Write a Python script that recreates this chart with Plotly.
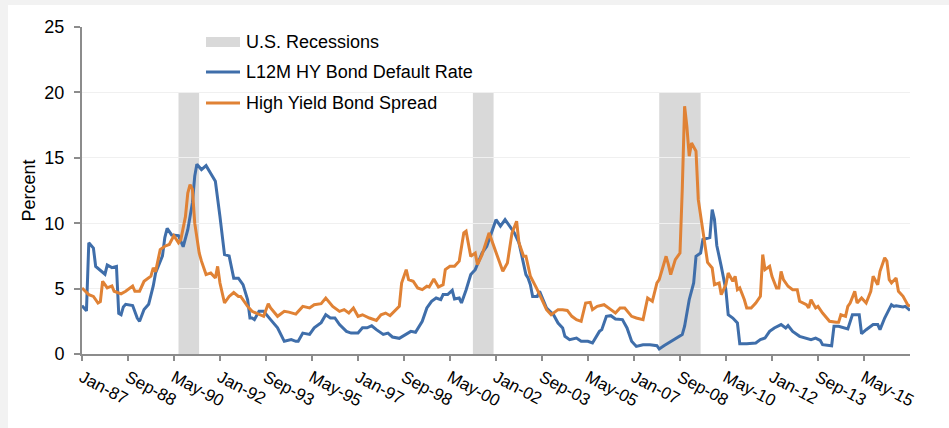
import plotly.graph_objects as go

# ---------------- data ----------------
default_dates = [
    "1987-01", "1987-03", "1987-04", "1987-06", "1987-07", "1987-11", "1987-12", "1988-02", "1988-04", "1988-05",
    "1988-06", "1988-07", "1988-08", "1988-11", "1989-01", "1989-02", "1989-04", "1989-06", "1989-08", "1989-09",
    "1989-12", "1990-01", "1990-02", "1990-04", "1990-07", "1990-09", "1990-11", "1991-01", "1991-02", "1991-03",
    "1991-05", "1991-07", "1991-09", "1991-11", "1992-01", "1992-03", "1992-05", "1992-07", "1992-09", "1992-11",
    "1993-01", "1993-02", "1993-03", "1993-04", "1993-06", "1993-08", "1993-11", "1994-02", "1994-05", "1994-08",
    "1994-10", "1994-11", "1995-01", "1995-04", "1995-06", "1995-09", "1995-11", "1996-01", "1996-03", "1996-05",
    "1996-08", "1996-10", "1997-01", "1997-03", "1997-05", "1997-07", "1997-09", "1997-12", "1998-02", "1998-04",
    "1998-07", "1998-10", "1998-12", "1999-02", "1999-05", "1999-07", "1999-09", "1999-11", "2000-01", "2000-02",
    "2000-04", "2000-06", "2000-07", "2000-09", "2000-10", "2000-12", "2001-02", "2001-04", "2001-05", "2001-07",
    "2001-09", "2001-11", "2002-01", "2002-03", "2002-05", "2002-07", "2002-09", "2002-11", "2002-12", "2003-02",
    "2003-03", "2003-04", "2003-05", "2003-07", "2003-08", "2003-09", "2003-11", "2004-02", "2004-04", "2004-06",
    "2004-07", "2004-09", "2004-12", "2005-02", "2005-05", "2005-07", "2005-10", "2005-11", "2006-01", "2006-03",
    "2006-05", "2006-08", "2006-10", "2006-12", "2007-02", "2007-05", "2007-08", "2007-11", "2007-12", "2008-02",
    "2008-04", "2008-07", "2008-10", "2008-11", "2009-01", "2009-03", "2009-04", "2009-06", "2009-07", "2009-10",
    "2009-11", "2009-12", "2010-01", "2010-03", "2010-05", "2010-06", "2010-08", "2010-10", "2010-11", "2011-02",
    "2011-06", "2011-08", "2011-10", "2011-12", "2012-02", "2012-05", "2012-07", "2012-08", "2012-10", "2013-01",
    "2013-04", "2013-06", "2013-08", "2013-10", "2013-11", "2014-03", "2014-04", "2014-06", "2014-10", "2014-12",
    "2015-03", "2015-04", "2015-06", "2015-09", "2015-11", "2015-12", "2016-02", "2016-05", "2016-06", "2016-07",
    "2016-10", "2016-11", "2017-01",
]
default_rate = [
    3.7, 3.3, 8.5, 8.1, 6.7, 6.1, 6.8, 6.6, 6.7, 3.1,
    3.0, 3.6, 3.8, 3.7, 2.75, 2.5, 3.4, 3.8, 5.2, 6.2,
    7.5, 8.9, 9.6, 9.1, 9.05, 8.2, 9.5, 11.55, 13.6, 14.5,
    14.1, 14.4, 13.8, 13.2, 10.5, 7.6, 7.5, 5.8, 5.8, 5.3,
    4.15, 2.75, 2.75, 2.63, 3.26, 3.26, 2.63, 2.0, 0.97, 1.1,
    0.97, 0.97, 1.6, 1.5, 2.0, 2.4, 3.0, 2.76, 2.76, 2.25,
    1.73, 1.6, 1.6, 2.0, 2.0, 2.16, 1.86, 1.5, 1.6, 1.3,
    1.2, 1.5, 1.73, 1.66, 2.5, 3.52, 4.03, 4.28, 4.16, 4.54,
    4.54, 4.87, 4.2, 4.28, 3.9, 4.9, 6.07, 6.45, 6.83, 7.72,
    8.24, 9.26, 10.27, 9.77, 10.27, 9.77, 9.26, 8.5, 7.72, 6.07,
    5.81, 5.3, 4.4, 4.4, 4.8, 4.4, 3.52, 3.0, 2.37, 1.99,
    1.35, 1.1, 1.22, 0.97, 0.97, 0.84, 1.73, 1.86, 2.88, 2.93,
    2.67, 2.63, 1.99, 0.97, 0.58, 0.71, 0.71, 0.63, 0.38, 0.63,
    0.84, 1.1, 1.48, 2.12, 4.15, 5.43, 7.47, 7.72, 8.75, 8.9,
    11.04, 10.3, 8.3, 6.7, 4.92, 3.0, 2.75, 2.37, 0.79, 0.79,
    0.84, 1.1, 1.22, 1.73, 1.99, 2.25, 1.99, 2.17, 1.73, 1.35,
    1.22, 1.1, 1.22, 1.04, 0.71, 0.63, 2.12, 2.12, 1.92, 3.0,
    3.0, 1.55, 1.86, 2.25, 2.25, 1.86, 2.75, 3.77, 3.64, 3.69,
    3.6, 3.64, 3.33,
]

spread_dates = [
    "1987-01", "1987-04", "1987-06", "1987-08", "1987-09", "1987-10", "1987-12", "1988-02", "1988-03", "1988-06",
    "1988-08", "1988-11", "1988-12", "1989-02", "1989-04", "1989-07", "1989-08", "1989-09", "1989-11", "1990-01",
    "1990-03", "1990-04", "1990-05", "1990-07", "1990-08", "1990-10", "1990-11", "1990-12", "1991-01", "1991-02",
    "1991-04", "1991-05", "1991-07", "1991-09", "1991-11", "1991-12", "1992-01", "1992-03", "1992-05", "1992-07",
    "1992-09", "1992-10", "1993-01", "1993-03", "1993-06", "1993-08", "1993-10", "1993-11", "1994-02", "1994-05",
    "1994-07", "1994-10", "1995-01", "1995-04", "1995-06", "1995-09", "1995-11", "1996-02", "1996-05", "1996-07",
    "1996-09", "1996-11", "1997-01", "1997-03", "1997-06", "1997-09", "1997-11", "1998-01", "1998-03", "1998-05",
    "1998-07", "1998-08", "1998-10", "1998-11", "1999-01", "1999-03", "1999-05", "1999-07", "1999-08", "1999-10",
    "1999-12", "2000-02", "2000-03", "2000-05", "2000-07", "2000-09", "2000-11", "2000-12", "2001-02", "2001-03",
    "2001-04", "2001-05", "2001-07", "2001-10", "2001-12", "2002-02", "2002-04", "2002-06", "2002-08", "2002-10",
    "2002-11", "2003-01", "2003-02", "2003-04", "2003-05", "2003-07", "2003-09", "2003-11", "2004-01", "2004-04",
    "2004-06", "2004-08", "2004-10", "2004-12", "2005-02", "2005-04", "2005-06", "2005-07", "2005-09", "2005-12",
    "2006-03", "2006-05", "2006-07", "2006-09", "2006-12", "2007-02", "2007-05", "2007-07", "2007-09", "2007-10",
    "2007-11", "2007-12", "2008-03", "2008-04", "2008-05", "2008-07", "2008-09", "2008-10", "2008-11", "2008-12",
    "2009-01", "2009-02", "2009-04", "2009-05", "2009-07", "2009-08", "2009-09", "2009-11", "2009-12", "2010-02",
    "2010-03", "2010-05", "2010-06", "2010-08", "2010-09", "2010-10", "2010-11", "2011-01", "2011-02", "2011-04",
    "2011-06", "2011-08", "2011-09", "2011-10", "2011-12", "2012-01", "2012-03", "2012-04", "2012-05", "2012-06",
    "2012-08", "2012-10", "2012-12", "2013-01", "2013-04", "2013-05", "2013-06", "2013-08", "2013-09", "2013-11",
    "2014-01", "2014-02", "2014-05", "2014-06", "2014-07", "2014-09", "2014-10", "2014-11", "2015-01", "2015-02",
    "2015-04", "2015-06", "2015-08", "2015-09", "2015-11", "2015-12", "2016-02", "2016-03", "2016-04", "2016-05",
    "2016-07", "2016-08", "2016-10", "2016-12", "2017-01",
]
spread = [
    5.05, 4.54, 4.4, 3.9, 4.0, 5.56, 5.05, 5.2, 4.8, 4.6,
    4.8, 5.2, 4.8, 4.8, 5.56, 5.95, 6.58, 6.3, 7.98, 8.24,
    8.37, 8.75, 9.05, 8.5, 8.75, 10.5, 12.3, 12.95, 12.6, 10.0,
    7.72, 7.1, 6.07, 6.2, 5.81, 6.7, 5.43, 3.9, 4.4, 4.7,
    4.4, 4.4, 3.64, 3.26, 3.0, 2.88, 3.85, 3.52, 2.88, 3.26,
    3.2, 3.05, 3.64, 3.52, 3.77, 3.85, 4.28, 3.64, 3.26, 3.39,
    3.13, 3.52, 2.88, 3.0, 2.75, 2.57, 3.0, 3.13, 2.93, 3.26,
    3.64, 5.43, 6.45, 5.68, 5.56, 5.05, 4.92, 5.18, 5.12, 5.74,
    5.12, 5.3, 6.45, 6.7, 6.7, 7.1, 9.26, 9.39, 7.46, 7.6,
    7.72, 6.83, 7.6, 9.26, 8.24, 7.35, 6.32, 6.96, 9.26, 10.15,
    8.5, 7.47, 7.47, 5.94, 5.56, 4.92, 4.15, 3.39, 3.0, 3.39,
    3.39, 3.33, 2.88, 2.63, 2.5, 3.9, 3.95, 3.39, 3.64, 3.77,
    3.39, 3.13, 3.52, 3.52, 2.88, 2.75, 2.63, 4.28, 4.03, 4.67,
    5.43, 5.68, 7.47, 6.83, 6.07, 7.22, 7.72, 12.57, 18.94, 17.4,
    15.12, 16.14, 15.5, 11.8, 9.26, 7.98, 7.0, 6.58, 5.3, 5.43,
    4.54, 5.3, 6.19, 5.56, 5.94, 4.92, 5.05, 4.15, 3.52, 3.52,
    3.9, 4.41, 7.6, 6.45, 6.7, 5.94, 5.05, 5.05, 6.32, 5.68,
    5.18, 4.92, 4.92, 4.03, 3.77, 3.52, 4.15, 3.52, 3.64, 3.13,
    2.75, 2.5, 2.42, 2.42, 3.0, 2.88, 3.64, 3.9, 4.79, 3.9,
    4.28, 3.9, 4.79, 5.94, 5.3, 6.32, 7.35, 7.1, 5.68, 5.43,
    5.81, 4.79, 4.41, 3.77, 3.64,
]

recession_starts = ["1990-07-01", "2001-03-01", "2007-12-01"]
recession_ends = ["1991-03-31", "2001-11-30", "2009-06-01"]
recession_top = 20

tick_dates = ["1987-01-01", "1988-09-01", "1990-05-01", "1992-01-01", "1993-09-01", "1995-05-01",
              "1997-01-01", "1998-09-01", "2000-05-01", "2002-01-01", "2003-09-01", "2005-05-01",
              "2007-01-01", "2008-09-01", "2010-05-01", "2012-01-01", "2013-09-01", "2015-05-01"]
tick_labels = ["Jan-87", "Sep-88", "May-90", "Jan-92", "Sep-93", "May-95", "Jan-97", "Sep-98",
               "May-00", "Jan-02", "Sep-03", "May-05", "Jan-07", "Sep-08", "May-10", "Jan-12",
               "Sep-13", "May-15"]

legend_labels = ["U.S. Recessions", "L12M HY Bond Default Rate", "High Yield Bond Spread"]

# ---------------- figure ----------------
FONT = "Liberation Sans, Arial, Helvetica, sans-serif"
BLUE = "#3f6eaa"
ORANGE = "#e08235"
GRAY = "#d9d9d9"
AXIS = "#8c8c8c"

W, H = 949, 428
ML, MR, MT, MB = 82, 39, 27, 74
PW, PH = W - ML - MR, H - MT - MB


def px_x(p):
    return (p - ML) / PW


def px_y(p):
    return (H - MB - p) / PH


fig = go.Figure()

fig.add_trace(go.Scatter(
    x=default_dates, y=default_rate, mode="lines", name=legend_labels[1],
    line=dict(color=BLUE, width=3), showlegend=False,
))
fig.add_trace(go.Scatter(
    x=spread_dates, y=spread, mode="lines", name=legend_labels[2],
    line=dict(color=ORANGE, width=3), showlegend=False,
))

shapes = [
    # white card over the light grey page
    dict(type="rect", xref="paper", yref="paper", x0=px_x(8), x1=px_x(W + 20), y0=px_y(H + 20), y1=px_y(5),
         fillcolor="white", line=dict(width=0), layer="below"),
]
for s, e in zip(recession_starts, recession_ends):
    shapes.append(dict(
        type="rect", xref="x", yref="y", x0=s, x1=e, y0=0, y1=recession_top,
        fillcolor=GRAY, line=dict(width=0), layer="below",
    ))

# legend (drawn manually to match the wide swatches)
leg_x0, leg_x1, leg_text = 206, 240, 244
leg_rows = [42, 72, 103]
shapes.append(dict(type="rect", xref="paper", yref="paper",
                   x0=px_x(leg_x0), x1=px_x(leg_x1), y0=px_y(leg_rows[0] + 5), y1=px_y(leg_rows[0] - 5),
                   fillcolor=GRAY, line=dict(width=0)))
for row, col in zip(leg_rows[1:], [BLUE, ORANGE]):
    shapes.append(dict(type="line", xref="paper", yref="paper",
                       x0=px_x(leg_x0), x1=px_x(leg_x1), y0=px_y(row), y1=px_y(row),
                       line=dict(color=col, width=3)))

annotations = []
for row, lab in zip(leg_rows, legend_labels):
    annotations.append(dict(
        xref="paper", yref="paper", x=px_x(leg_text), y=px_y(row), text=lab,
        showarrow=False, xanchor="left", yanchor="middle", font=dict(size=18, color="#000"),
    ))
annotations.append(dict(
    xref="paper", yref="paper", x=px_x(28), y=0.5, text="Percent", textangle=-90,
    showarrow=False, xanchor="center", yanchor="middle", font=dict(size=18, color="#000"),
))

fig.update_layout(
    width=W, height=H,
    margin=dict(l=ML, r=MR, t=MT, b=MB),
    paper_bgcolor="#f2f2f2",
    plot_bgcolor="white",
    font=dict(family=FONT, size=17, color="#000000"),
    shapes=shapes,
    annotations=annotations,
    showlegend=False,
    xaxis=dict(
        type="date", automargin=False,
        range=["1987-01-01", "2017-01-01"],
        tickmode="array", tickvals=tick_dates, ticktext=tick_labels,
        tickangle=28,
        showgrid=False, zeroline=False,
        showline=True, linecolor=AXIS, linewidth=2,
        ticks="outside", ticklen=5, tickcolor=AXIS, tickwidth=1.5,
        tickfont=dict(size=17),
    ),
    yaxis=dict(
        automargin=False,
        range=[0, 25], tickvals=[0, 5, 10, 15, 20, 25],
        showgrid=True, gridcolor="#f0f0f0", gridwidth=1, zeroline=False,
        showline=True, linecolor=AXIS, linewidth=2,
        ticks="outside", ticklen=6, tickcolor=AXIS, tickwidth=1.5,
        tickfont=dict(size=18), ticklabelstandoff=6,
    ),
)

# the page's default 8px body margin would shift the figure; remove it
fig.write_html("out.html", config={"displayModeBar": False},
               post_script="document.body.style.margin='0';")
